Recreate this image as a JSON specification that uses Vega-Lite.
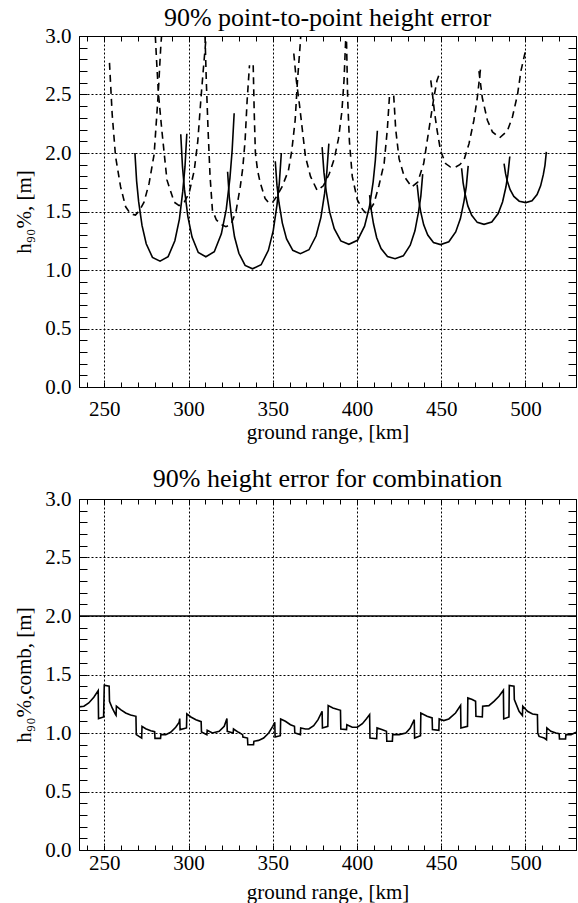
{
  "$schema": "https://vega.github.io/schema/vega-lite/v6.json",
  "padding": {"left": 13, "top": 4, "right": 2, "bottom": 0},
  "spacing": 22,
  "config": {
    "font": "Liberation Serif, Times New Roman, DejaVu Serif, serif",
    "view": {"stroke": "black", "strokeWidth": 1},
    "axis": {"domain": false, "labelFont": "Liberation Serif, Times New Roman, DejaVu Serif, serif", "labelFontSize": 21, "labelColor": "black", "titleFont": "Liberation Serif, Times New Roman, DejaVu Serif, serif", "titleFontSize": 21, "titleFontWeight": "normal", "titleColor": "black", "tickColor": "black", "tickWidth": 1, "gridColor": "black", "gridDash": [2, 2], "gridWidth": 1, "labelOverlap": false, "labelFlush": false},
    "title": {"font": "Liberation Serif, Times New Roman, DejaVu Serif, serif", "fontSize": 26, "fontWeight": "normal", "color": "black"}
  },
  "datasets": {
    "solid": [
      {"c":"S1","x":268.2,"y":2.0},{"c":"S1","x":269.2,"y":1.76},{"c":"S1","x":270.4,"y":1.584},{"c":"S1","x":272.4,"y":1.381},{"c":"S1","x":274.9,"y":1.224},{"c":"S1","x":278.6,"y":1.108},{"c":"S1","x":283.1,"y":1.076},{"c":"S1","x":287.9,"y":1.114},{"c":"S1","x":291.9,"y":1.25},{"c":"S1","x":294.6,"y":1.435},{"c":"S1","x":296.6,"y":1.674},{"c":"S1","x":297.9,"y":1.881},{"c":"S1","x":299.0,"y":2.164},
      {"c":"S2","x":295.4,"y":2.16},{"c":"S2","x":296.4,"y":1.888},{"c":"S2","x":297.6,"y":1.689},{"c":"S2","x":299.6,"y":1.459},{"c":"S2","x":302.1,"y":1.281},{"c":"S2","x":305.8,"y":1.15},{"c":"S2","x":310.3,"y":1.113},{"c":"S2","x":315.3,"y":1.156},{"c":"S2","x":319.5,"y":1.309},{"c":"S2","x":322.4,"y":1.518},{"c":"S2","x":324.6,"y":1.788},{"c":"S2","x":325.9,"y":2.021},{"c":"S2","x":327.1,"y":2.34},
      {"c":"S3","x":323.2,"y":1.84},{"c":"S3","x":324.2,"y":1.624},{"c":"S3","x":325.4,"y":1.467},{"c":"S3","x":327.3,"y":1.284},{"c":"S3","x":329.9,"y":1.143},{"c":"S3","x":333.6,"y":1.039},{"c":"S3","x":338.0,"y":1.01},{"c":"S3","x":343.1,"y":1.045},{"c":"S3","x":347.4,"y":1.168},{"c":"S3","x":350.3,"y":1.337},{"c":"S3","x":352.5,"y":1.555},{"c":"S3","x":353.9,"y":1.743},{"c":"S3","x":355.1,"y":2.0},
      {"c":"S4","x":351.5,"y":1.93},{"c":"S4","x":352.5,"y":1.725},{"c":"S4","x":353.7,"y":1.575},{"c":"S4","x":355.7,"y":1.401},{"c":"S4","x":358.2,"y":1.266},{"c":"S4","x":361.9,"y":1.168},{"c":"S4","x":366.4,"y":1.14},{"c":"S4","x":371.5,"y":1.173},{"c":"S4","x":375.7,"y":1.29},{"c":"S4","x":378.6,"y":1.45},{"c":"S4","x":380.8,"y":1.657},{"c":"S4","x":382.1,"y":1.836},{"c":"S4","x":383.3,"y":2.08},
      {"c":"S5","x":379.3,"y":2.05},{"c":"S5","x":380.4,"y":1.834},{"c":"S5","x":381.7,"y":1.677},{"c":"S5","x":383.8,"y":1.494},{"c":"S5","x":386.5,"y":1.353},{"c":"S5","x":390.4,"y":1.249},{"c":"S5","x":395.2,"y":1.22},{"c":"S5","x":400.3,"y":1.254},{"c":"S5","x":404.5,"y":1.375},{"c":"S5","x":407.4,"y":1.54},{"c":"S5","x":409.6,"y":1.754},{"c":"S5","x":410.9,"y":1.938},{"c":"S5","x":412.1,"y":2.19},
      {"c":"S6","x":407.5,"y":1.64},{"c":"S6","x":408.6,"y":1.499},{"c":"S6","x":409.8,"y":1.395},{"c":"S6","x":411.7,"y":1.276},{"c":"S6","x":414.3,"y":1.183},{"c":"S6","x":418.1,"y":1.115},{"c":"S6","x":422.6,"y":1.096},{"c":"S6","x":427.5,"y":1.121},{"c":"S6","x":431.6,"y":1.212},{"c":"S6","x":434.4,"y":1.335},{"c":"S6","x":436.5,"y":1.494},{"c":"S6","x":437.9,"y":1.632},{"c":"S6","x":439.0,"y":1.82},
      {"c":"S7","x":435.7,"y":1.73},{"c":"S7","x":436.7,"y":1.597},{"c":"S7","x":437.8,"y":1.499},{"c":"S7","x":439.6,"y":1.386},{"c":"S7","x":442.0,"y":1.299},{"c":"S7","x":445.4,"y":1.235},{"c":"S7","x":449.6,"y":1.217},{"c":"S7","x":454.5,"y":1.241},{"c":"S7","x":458.6,"y":1.325},{"c":"S7","x":461.4,"y":1.439},{"c":"S7","x":463.5,"y":1.587},{"c":"S7","x":464.9,"y":1.715},{"c":"S7","x":466.0,"y":1.89},
      {"c":"S8","x":462.1,"y":1.87},{"c":"S8","x":463.0,"y":1.745},{"c":"S8","x":464.1,"y":1.654},{"c":"S8","x":465.8,"y":1.548},{"c":"S8","x":468.1,"y":1.467},{"c":"S8","x":471.4,"y":1.407},{"c":"S8","x":475.4,"y":1.39},{"c":"S8","x":480.0,"y":1.41},{"c":"S8","x":483.8,"y":1.483},{"c":"S8","x":486.4,"y":1.581},{"c":"S8","x":488.4,"y":1.709},{"c":"S8","x":489.6,"y":1.819},{"c":"S8","x":490.7,"y":1.97},
      {"c":"S9","x":487.3,"y":1.91},{"c":"S9","x":488.2,"y":1.823},{"c":"S9","x":489.2,"y":1.76},{"c":"S9","x":490.9,"y":1.686},{"c":"S9","x":493.1,"y":1.629},{"c":"S9","x":496.3,"y":1.588},{"c":"S9","x":500.2,"y":1.576},{"c":"S9","x":503.9,"y":1.591},{"c":"S9","x":506.9,"y":1.645},{"c":"S9","x":509.0,"y":1.719},{"c":"S9","x":510.6,"y":1.815},{"c":"S9","x":511.6,"y":1.897},{"c":"S9","x":512.4,"y":2.01}
    ],
    "dashed": [
      {"c":"D1","x":253.1,"y":2.77},{"c":"D1","x":254.7,"y":2.33},{"c":"D1","x":256.7,"y":1.97},{"c":"D1","x":259.7,"y":1.71},{"c":"D1","x":262.7,"y":1.54},{"c":"D1","x":265.6,"y":1.48},{"c":"D1","x":268.5,"y":1.47},{"c":"D1","x":271.0,"y":1.51},{"c":"D1","x":273.6,"y":1.58},{"c":"D1","x":276.6,"y":1.74},{"c":"D1","x":279.6,"y":1.99},{"c":"D1","x":282.0,"y":2.5},{"c":"D1","x":283.5,"y":2.9},{"c":"D1","x":284.0,"y":3.0},
      {"c":"D2","x":280.3,"y":3.0},{"c":"D2","x":281.2,"y":2.75},{"c":"D2","x":282.2,"y":2.5},{"c":"D2","x":284.2,"y":2.19},{"c":"D2","x":287.2,"y":1.77},{"c":"D2","x":291.5,"y":1.58},{"c":"D2","x":294.4,"y":1.55},{"c":"D2","x":297.5,"y":1.58},{"c":"D2","x":300.4,"y":1.66},{"c":"D2","x":303.4,"y":1.85},{"c":"D2","x":305.5,"y":2.1},{"c":"D2","x":307.4,"y":2.47},{"c":"D2","x":309.0,"y":2.75},{"c":"D2","x":310.5,"y":3.0},
      {"c":"D3","x":309.8,"y":3.0},{"c":"D3","x":310.6,"y":2.6},{"c":"D3","x":311.6,"y":2.2},{"c":"D3","x":312.8,"y":1.8},{"c":"D3","x":314.2,"y":1.51},{"c":"D3","x":316.5,"y":1.43},{"c":"D3","x":319.2,"y":1.39},{"c":"D3","x":322.2,"y":1.37},{"c":"D3","x":325.2,"y":1.39},{"c":"D3","x":328.2,"y":1.5},{"c":"D3","x":330.7,"y":1.71},{"c":"D3","x":332.2,"y":1.87},{"c":"D3","x":333.6,"y":2.11},{"c":"D3","x":334.8,"y":2.45},{"c":"D3","x":336.2,"y":2.75},
      {"c":"D4","x":338.4,"y":2.75},{"c":"D4","x":339.0,"y":2.35},{"c":"D4","x":339.7,"y":2.0},{"c":"D4","x":341.0,"y":1.85},{"c":"D4","x":342.5,"y":1.75},{"c":"D4","x":345.5,"y":1.61},{"c":"D4","x":347.9,"y":1.57},{"c":"D4","x":350.0,"y":1.58},{"c":"D4","x":352.4,"y":1.63},{"c":"D4","x":355.5,"y":1.71},{"c":"D4","x":359.3,"y":1.85},{"c":"D4","x":361.3,"y":2.02},{"c":"D4","x":363.3,"y":2.28},{"c":"D4","x":364.7,"y":2.62},{"c":"D4","x":366.3,"y":2.93},{"c":"D4","x":366.6,"y":3.0},
      {"c":"D5","x":362.5,"y":2.85},{"c":"D5","x":364.0,"y":2.62},{"c":"D5","x":365.8,"y":2.42},{"c":"D5","x":367.4,"y":2.22},{"c":"D5","x":369.4,"y":1.97},{"c":"D5","x":372.4,"y":1.8},{"c":"D5","x":376.4,"y":1.68},{"c":"D5","x":380.0,"y":1.72},{"c":"D5","x":383.5,"y":1.82},{"c":"D5","x":386.5,"y":1.95},{"c":"D5","x":389.0,"y":2.12},{"c":"D5","x":391.0,"y":2.35},{"c":"D5","x":392.3,"y":2.62},{"c":"D5","x":393.3,"y":2.97},
      {"c":"D6","x":393.8,"y":2.95},{"c":"D6","x":394.5,"y":2.45},{"c":"D6","x":395.5,"y":2.1},{"c":"D6","x":397.2,"y":1.8},{"c":"D6","x":400.2,"y":1.6},{"c":"D6","x":403.2,"y":1.52},{"c":"D6","x":405.0,"y":1.49},{"c":"D6","x":407.0,"y":1.5},{"c":"D6","x":410.1,"y":1.57},{"c":"D6","x":413.0,"y":1.72},{"c":"D6","x":416.1,"y":1.91},{"c":"D6","x":418.0,"y":2.2},{"c":"D6","x":419.3,"y":2.49},
      {"c":"D7","x":421.8,"y":2.49},{"c":"D7","x":423.0,"y":2.2},{"c":"D7","x":425.0,"y":1.95},{"c":"D7","x":428.0,"y":1.8},{"c":"D7","x":432.5,"y":1.71},{"c":"D7","x":436.0,"y":1.75},{"c":"D7","x":439.6,"y":1.91},{"c":"D7","x":442.6,"y":2.19},{"c":"D7","x":445.6,"y":2.47},{"c":"D7","x":447.5,"y":2.62},{"c":"D7","x":449.0,"y":2.68},
      {"c":"D8","x":443.8,"y":2.62},{"c":"D8","x":444.6,"y":2.53},{"c":"D8","x":446.0,"y":2.35},{"c":"D8","x":447.6,"y":2.19},{"c":"D8","x":449.6,"y":2.02},{"c":"D8","x":452.6,"y":1.91},{"c":"D8","x":455.5,"y":1.88},{"c":"D8","x":458.5,"y":1.88},{"c":"D8","x":461.0,"y":1.9},{"c":"D8","x":463.5,"y":1.94},{"c":"D8","x":466.5,"y":2.08},{"c":"D8","x":469.4,"y":2.28},{"c":"D8","x":471.4,"y":2.47},{"c":"D8","x":473.4,"y":2.73},
      {"c":"D9","x":472.4,"y":2.7},{"c":"D9","x":474.4,"y":2.47},{"c":"D9","x":477.4,"y":2.28},{"c":"D9","x":480.4,"y":2.18},{"c":"D9","x":484.7,"y":2.13},{"c":"D9","x":489.3,"y":2.19},{"c":"D9","x":492.3,"y":2.31},{"c":"D9","x":495.3,"y":2.5},{"c":"D9","x":497.3,"y":2.7},{"c":"D9","x":499.8,"y":2.86}
    ],
    "comb": [
      {"x":234.9,"y":1.223},{"x":237.9,"y":1.229},{"x":240.8,"y":1.257},{"x":243.8,"y":1.306},{"x":246.4,"y":1.363},{"x":246.6,"y":1.123},{"x":249.6,"y":1.137},{"x":250.0,"y":1.409},{"x":252.9,"y":1.4},{"x":253.1,"y":1.271},{"x":254.7,"y":1.214},{"x":256.7,"y":1.157},{"x":257.0,"y":1.151},{"x":257.2,"y":1.229},{"x":259.7,"y":1.2},{"x":262.7,"y":1.171},{"x":265.6,"y":1.154},{"x":268.8,"y":1.143},{"x":269.0,"y":0.986},{"x":270.6,"y":0.971},{"x":272.2,"y":0.957},{"x":272.4,"y":1.057},{"x":274.6,"y":1.037},{"x":277.6,"y":1.02},{"x":279.9,"y":1.011},{"x":280.1,"y":0.954},{"x":283.4,"y":0.954},{"x":283.6,"y":0.986},{"x":286.5,"y":0.986},{"x":289.4,"y":1.006},{"x":292.4,"y":1.049},{"x":294.4,"y":1.091},{"x":294.8,"y":1.123},{"x":295.0,"y":1.029},{"x":298.8,"y":1.043},{"x":299.0,"y":1.163},{"x":301.4,"y":1.137},{"x":304.4,"y":1.114},{"x":307.5,"y":1.097},{"x":307.7,"y":1.009},{"x":310.9,"y":0.986},{"x":311.1,"y":1.023},{"x":314.2,"y":1.0},{"x":318.2,"y":1.014},{"x":321.2,"y":1.057},{"x":322.8,"y":1.123},{"x":323.0,"y":1.014},{"x":326.5,"y":1.0},{"x":326.7,"y":1.034},{"x":329.7,"y":1.006},{"x":332.1,"y":0.986},{"x":332.3,"y":0.966},{"x":335.0,"y":0.957},{"x":335.2,"y":0.9},{"x":338.6,"y":0.9},{"x":338.8,"y":0.929},{"x":341.6,"y":0.937},{"x":344.6,"y":0.957},{"x":347.6,"y":1.0},{"x":350.0,"y":1.057},{"x":351.2,"y":1.091},{"x":351.4,"y":0.966},{"x":354.5,"y":0.977},{"x":354.7,"y":1.12},{"x":357.5,"y":1.1},{"x":360.5,"y":1.071},{"x":362.9,"y":1.057},{"x":363.1,"y":1.0},{"x":366.4,"y":0.986},{"x":366.6,"y":1.043},{"x":369.4,"y":1.034},{"x":371.4,"y":1.034},{"x":374.3,"y":1.063},{"x":376.9,"y":1.114},{"x":379.3,"y":1.186},{"x":379.5,"y":1.043},{"x":382.7,"y":1.057},{"x":382.9,"y":1.234},{"x":385.7,"y":1.214},{"x":390.2,"y":1.194},{"x":390.4,"y":1.034},{"x":393.8,"y":1.029},{"x":394.0,"y":1.071},{"x":397.2,"y":1.049},{"x":400.2,"y":1.049},{"x":403.2,"y":1.08},{"x":405.5,"y":1.12},{"x":407.5,"y":1.157},{"x":407.7,"y":0.957},{"x":411.7,"y":0.951},{"x":411.9,"y":1.043},{"x":414.7,"y":1.029},{"x":417.5,"y":1.014},{"x":417.7,"y":0.929},{"x":421.0,"y":0.929},{"x":421.2,"y":0.986},{"x":425.0,"y":0.986},{"x":429.0,"y":1.0},{"x":431.5,"y":1.04},{"x":434.0,"y":1.114},{"x":434.2,"y":0.957},{"x":437.7,"y":0.977},{"x":437.9,"y":1.171},{"x":441.6,"y":1.143},{"x":444.6,"y":1.129},{"x":444.8,"y":1.029},{"x":448.6,"y":1.023},{"x":448.8,"y":1.12},{"x":451.5,"y":1.106},{"x":454.5,"y":1.12},{"x":458.5,"y":1.171},{"x":461.5,"y":1.237},{"x":461.7,"y":1.043},{"x":465.6,"y":1.057},{"x":465.8,"y":1.3},{"x":468.4,"y":1.286},{"x":470.4,"y":1.271},{"x":470.6,"y":1.143},{"x":474.4,"y":1.137},{"x":474.6,"y":1.229},{"x":478.3,"y":1.234},{"x":481.3,"y":1.271},{"x":484.3,"y":1.314},{"x":486.9,"y":1.366},{"x":487.1,"y":1.12},{"x":490.2,"y":1.137},{"x":490.4,"y":1.406},{"x":493.2,"y":1.4},{"x":493.4,"y":1.286},{"x":496.2,"y":1.186},{"x":498.2,"y":1.149},{"x":498.4,"y":1.229},{"x":501.2,"y":1.186},{"x":504.2,"y":1.163},{"x":507.1,"y":1.157},{"x":507.3,"y":1.0},{"x":508.1,"y":0.971},{"x":511.1,"y":0.957},{"x":512.5,"y":0.943},{"x":512.7,"y":1.043},{"x":515.1,"y":1.014},{"x":518.1,"y":1.0},{"x":520.0,"y":0.994},{"x":520.2,"y":0.949},{"x":523.8,"y":0.949},{"x":524.0,"y":0.986},{"x":527.0,"y":0.986},{"x":530.0,"y":1.006}
    ],
    "thr": [{"x":235,"y":2.0},{"x":530,"y":2.0}]
  },
  "vconcat": [
    {
      "width": 497,
      "height": 351,
      "title": {"text": "90% point-to-point height error", "offset": -6},
      "resolve": {"axis": {"x": "independent", "y": "independent"}},
      "layer": [
        {
          "data": {"name": "solid"},
          "mark": {"type": "line", "color": "black", "strokeWidth": 1.6, "clip": true},
          "encoding": {
            "x": {"field": "x", "type": "quantitative", "scale": {"domain": [235, 530], "nice": false, "zero": false},
              "axis": {"orient": "bottom", "title": "ground range, [km]", "values": [240,250,260,270,280,290,300,310,320,330,340,350,360,370,380,390,400,410,420,430,440,450,460,470,480,490,500,510,520,530],
                "labelExpr": "datum.value % 50 === 0 ? datum.label : ''", "tickSize": -5, "grid": true,
                "gridOpacity": {"condition": {"test": "datum.value % 50 === 0", "value": 1}, "value": 0},
                "labelPadding": 16, "titlePadding": 2}},
            "y": {"field": "y", "type": "quantitative", "scale": {"domain": [0, 3], "nice": false, "zero": false},
              "axis": {"orient": "left", "title": "h₉₀%, [m]", "values": [0,0.1,0.2,0.3,0.4,0.5,0.6,0.7,0.8,0.9,1,1.1,1.2,1.3,1.4,1.5,1.6,1.7,1.8,1.9,2,2.1,2.2,2.3,2.4,2.5,2.6,2.7,2.8,2.9,3],
                "labelExpr": "abs(datum.value*2 - round(datum.value*2)) < 0.001 ? format(datum.value, '.1f') : ''", "tickSize": -8, "grid": true,
                "gridOpacity": {"condition": {"test": "abs(datum.value*2 - round(datum.value*2)) < 0.001", "value": 1}, "value": 0},
                "labelPadding": 16, "titlePadding": 10}},
            "detail": {"field": "c", "type": "nominal"}
          }
        },
        {
          "data": {"name": "dashed"},
          "mark": {"type": "line", "color": "black", "strokeWidth": 1.6, "strokeDash": [7, 5], "clip": true},
          "encoding": {
            "x": {"field": "x", "type": "quantitative", "scale": {"domain": [235, 530], "nice": false, "zero": false},
              "axis": {"orient": "top", "title": null, "labels": false, "grid": false, "tickSize": -5, "values": [240,250,260,270,280,290,300,310,320,330,340,350,360,370,380,390,400,410,420,430,440,450,460,470,480,490,500,510,520,530]}},
            "y": {"field": "y", "type": "quantitative", "scale": {"domain": [0, 3], "nice": false, "zero": false},
              "axis": {"orient": "right", "title": null, "labels": false, "grid": false, "tickSize": -8, "values": [0,0.1,0.2,0.3,0.4,0.5,0.6,0.7,0.8,0.9,1,1.1,1.2,1.3,1.4,1.5,1.6,1.7,1.8,1.9,2,2.1,2.2,2.3,2.4,2.5,2.6,2.7,2.8,2.9,3]}},
            "detail": {"field": "c", "type": "nominal"}
          }
        }
      ]
    },
    {
      "width": 497,
      "height": 351,
      "title": {"text": "90% height error for combination", "offset": -4},
      "resolve": {"axis": {"x": "independent", "y": "independent"}},
      "layer": [
        {
          "data": {"name": "comb"},
          "mark": {"type": "line", "color": "black", "strokeWidth": 1.6, "clip": true},
          "encoding": {
            "x": {"field": "x", "type": "quantitative", "scale": {"domain": [235, 530], "nice": false, "zero": false},
              "axis": {"orient": "bottom", "title": "ground range, [km]", "values": [240,250,260,270,280,290,300,310,320,330,340,350,360,370,380,390,400,410,420,430,440,450,460,470,480,490,500,510,520,530],
                "labelExpr": "datum.value % 50 === 0 ? datum.label : ''", "tickSize": -5, "grid": true,
                "gridOpacity": {"condition": {"test": "datum.value % 50 === 0", "value": 1}, "value": 0},
                "labelPadding": 7, "titlePadding": 8}},
            "y": {"field": "y", "type": "quantitative", "scale": {"domain": [0, 3], "nice": false, "zero": false},
              "axis": {"orient": "left", "title": "h₉₀%,comb, [m]", "values": [0,0.1,0.2,0.3,0.4,0.5,0.6,0.7,0.8,0.9,1,1.1,1.2,1.3,1.4,1.5,1.6,1.7,1.8,1.9,2,2.1,2.2,2.3,2.4,2.5,2.6,2.7,2.8,2.9,3],
                "labelExpr": "abs(datum.value*2 - round(datum.value*2)) < 0.001 ? format(datum.value, '.1f') : ''", "tickSize": -8, "grid": true,
                "gridOpacity": {"condition": {"test": "abs(datum.value*2 - round(datum.value*2)) < 0.001", "value": 1}, "value": 0},
                "labelPadding": 16, "titlePadding": 10}}
          }
        },
        {
          "data": {"name": "thr"},
          "mark": {"type": "line", "color": "black", "strokeWidth": 1.6, "clip": true},
          "encoding": {
            "x": {"field": "x", "type": "quantitative", "scale": {"domain": [235, 530], "nice": false, "zero": false},
              "axis": {"orient": "top", "title": null, "labels": false, "grid": false, "tickSize": -5, "values": [240,250,260,270,280,290,300,310,320,330,340,350,360,370,380,390,400,410,420,430,440,450,460,470,480,490,500,510,520,530]}},
            "y": {"field": "y", "type": "quantitative", "scale": {"domain": [0, 3], "nice": false, "zero": false},
              "axis": {"orient": "right", "title": null, "labels": false, "grid": false, "tickSize": -8, "values": [0,0.1,0.2,0.3,0.4,0.5,0.6,0.7,0.8,0.9,1,1.1,1.2,1.3,1.4,1.5,1.6,1.7,1.8,1.9,2,2.1,2.2,2.3,2.4,2.5,2.6,2.7,2.8,2.9,3]}}
          }
        }
      ]
    }
  ]
}
